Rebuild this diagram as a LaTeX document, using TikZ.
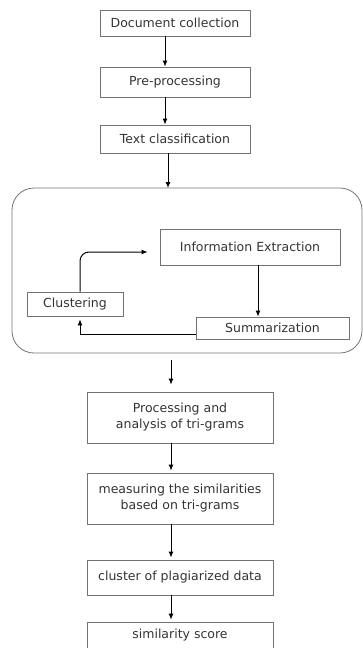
\documentclass[tikz,border=0pt]{standalone}
\usepackage{fontspec}
\setmainfont{DejaVu Sans}
\usetikzlibrary{arrows.meta}

\tikzset{
  stage/.style={draw=black!55, line width=0.8pt, text=black!80, inner sep=0pt,
    font=\fontsize{12.5}{16}\selectfont, align=center},
  flow/.style={draw=black, line width=1pt, -{Latex[length=6pt,width=5pt]}},
}

\begin{document}
\begin{tikzpicture}[x=1pt,y=-1pt]
    \pgfmathsetmacro{\wTop}{150}     % largeur des boites du haut
    \pgfmathsetmacro{\wBot}{186}     % largeur des boites du bas
    \pgfmathsetmacro{\xBot}{180}     % centre des boites du bas

    \useasboundingbox (0,0) rectangle (363,648);

    % Etapes du haut
    \node[stage, minimum width=\wTop, minimum height=26] (doc) at (175,23) {Document collection};
    \node[stage, minimum width=\wTop, minimum height=30] (pre) at (175,82) {Pre-processing};
    \node[stage, minimum width=\wTop, minimum height=28] (textc) at (175,139) {Text classification};

    % Bloc arrondi
    \node[draw=black!55, line width=0.8pt, rounded corners=22pt,
          minimum width=350, minimum height=165] (core) at (187,270.5) {};
    \coordinate (coreIn) at (168,188);
    \coordinate (coreOut) at (171,353);
    \node[stage, minimum width=180, minimum height=36] (info) at (250,247) {Information Extraction};
    \node[stage, minimum width=96, minimum height=24] (clust) at (75,304) {Clustering};
    \node[stage, minimum width=153, minimum height=22] (summ) at (272.5,328) {Summarization};

    % Etapes du bas
    \node[stage, minimum width=\wBot, minimum height=51] (proc) at (\xBot,417.5) {Processing and\\analysis of tri-grams};
    \node[stage, minimum width=\wBot, minimum height=51] (meas) at (\xBot,498.5) {measuring the similarities\\based on tri-grams};
    \node[stage, minimum width=\wBot, minimum height=35] (clusd) at (\xBot,577.5) {cluster of plagiarized data};
    \node[stage, minimum width=\wBot, minimum height=26] (score) at (\xBot,635) {similarity score};

    % Fleches
    \draw[flow] ([xshift=-10pt]doc.south) -- ([xshift=-10pt]pre.north);
    \draw[flow] ([xshift=-10pt]pre.south) -- ([xshift=-10pt]textc.north);
    \draw[flow] ([xshift=-7pt]textc.south) -- (coreIn);
    \draw[flow, rounded corners=9pt, shorten >=12pt] ([xshift=5pt]clust.north) |- ([yshift=-5pt]info.west);
    \draw[flow, line width=0.8pt] ([xshift=8pt]info.south) -- ([xshift=-14.5pt]summ.north);
    \draw[flow, shorten >=3pt] ([yshift=-6pt]summ.west) -| ([xshift=5pt]clust.south);
    \draw[flow, shorten <=7pt, shorten >=7pt] (coreOut) -- ([xshift=-9pt]proc.north);
    \foreach \a/\b in {proc/meas, meas/clusd, clusd/score}{
        \draw[flow, shorten >=2pt] ([xshift=-9pt]\a.south) -- ([xshift=-9pt]\b.north);
    }
\end{tikzpicture}
\end{document}
